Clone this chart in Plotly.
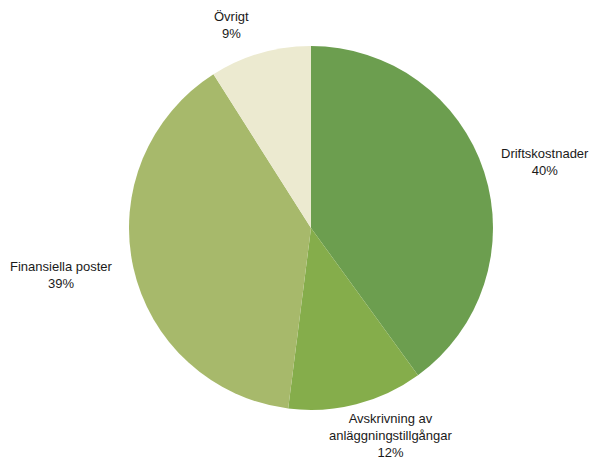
import plotly.graph_objects as go

labels = ["Driftskostnader", "Avskrivning av anläggningstillgångar", "Finansiella poster", "Övrigt"]
values = [40, 12, 39, 9]
colors = ["#6c9e4f", "#85ad4b", "#a7b96b", "#ecead0"]
label_texts = ["Driftskostnader<br>40%", "Avskrivning av<br>anläggningstillgångar<br>12%", "Finansiella poster<br>39%", "Övrigt<br>9%"]
label_pos = [(545, 162), (391, 435), (61, 275), (231, 25)]

W, H = 593, 462
cx, cy, r = 311, 228, 182

fig = go.Figure(go.Pie(
    labels=labels, values=values, sort=False, direction="clockwise", rotation=0,
    marker=dict(colors=colors, line=dict(width=0)),
    textinfo="none", hoverinfo="label+percent", showlegend=False,
    domain=dict(x=[(cx - r) / W, (cx + r) / W], y=[(H - cy - r) / H, (H - cy + r) / H]),
))

for t, (x, y) in zip(label_texts, label_pos):
    fig.add_annotation(x=x / W, y=1 - y / H, xref="paper", yref="paper", text=t,
                       xanchor="center", yanchor="middle",
                       showarrow=False, align="center",
                       font=dict(family="Liberation Sans, Arial", size=13, color="#1a1a1a"))

fig.update_layout(width=W, height=H, margin=dict(l=0, r=0, t=0, b=0),
                  paper_bgcolor="white", plot_bgcolor="white")
fig.write_html("out.html")
